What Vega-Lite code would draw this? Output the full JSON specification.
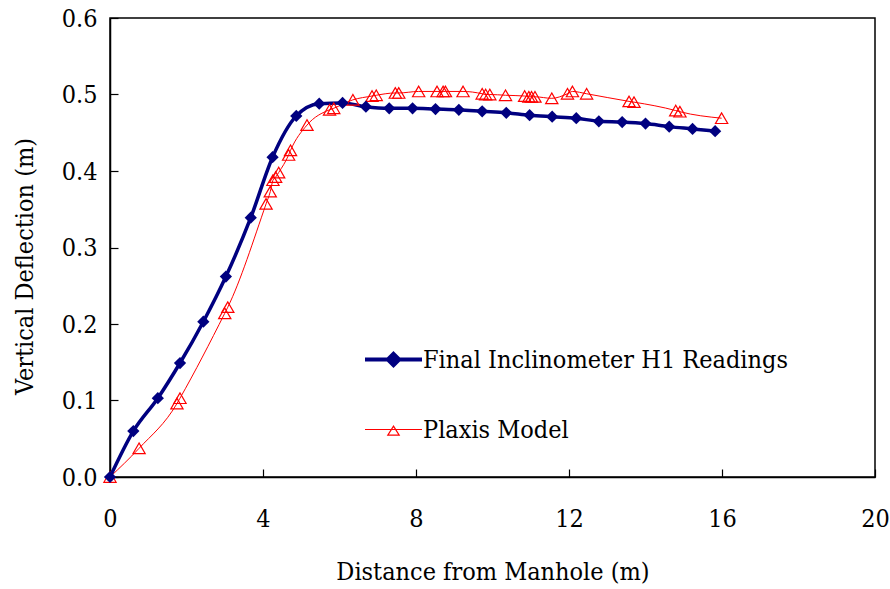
{
  "$schema": "https://vega.github.io/schema/vega-lite/v6.json",
  "width": 765,
  "height": 459,
  "autosize": "none",
  "padding": {"left": 110, "top": 18, "right": 15, "bottom": 112},
  "background": "white",
  "config": {
    "font": "DejaVu Serif Condensed",
    "view": {"stroke": "#000000", "strokeWidth": 1.5},
    "axis": {
      "grid": false,
      "domainColor": "#000000",
      "domainWidth": 1.5,
      "tickColor": "#000000",
      "tickWidth": 1.2,
      "tickSize": -8,
      "labelFlush": false,
      "labelFont": "DejaVu Serif Condensed",
      "labelFontSize": 25,
      "labelColor": "#000000",
      "titleFont": "DejaVu Serif Condensed",
      "titleFontSize": 25,
      "titleFontWeight": "normal",
      "titleColor": "#000000"
    },
    "legend": {
      "labelFont": "DejaVu Serif Condensed"
    }
  },
  "datasets": {
    "pts": [
      {"series": "Final Inclinometer H1 Readings", "d": 0, "v": 0},
      {"series": "Final Inclinometer H1 Readings", "d": 0.61, "v": 0.060},
      {"series": "Final Inclinometer H1 Readings", "d": 1.25, "v": 0.103},
      {"series": "Final Inclinometer H1 Readings", "d": 1.83, "v": 0.149},
      {"series": "Final Inclinometer H1 Readings", "d": 2.44, "v": 0.203},
      {"series": "Final Inclinometer H1 Readings", "d": 3.03, "v": 0.262},
      {"series": "Final Inclinometer H1 Readings", "d": 3.68, "v": 0.339},
      {"series": "Final Inclinometer H1 Readings", "d": 4.25, "v": 0.418},
      {"series": "Final Inclinometer H1 Readings", "d": 4.87, "v": 0.472},
      {"series": "Final Inclinometer H1 Readings", "d": 5.47, "v": 0.488},
      {"series": "Final Inclinometer H1 Readings", "d": 6.08, "v": 0.489},
      {"series": "Final Inclinometer H1 Readings", "d": 6.69, "v": 0.484},
      {"series": "Final Inclinometer H1 Readings", "d": 7.30, "v": 0.482},
      {"series": "Final Inclinometer H1 Readings", "d": 7.91, "v": 0.482},
      {"series": "Final Inclinometer H1 Readings", "d": 8.51, "v": 0.481},
      {"series": "Final Inclinometer H1 Readings", "d": 9.12, "v": 0.480},
      {"series": "Final Inclinometer H1 Readings", "d": 9.73, "v": 0.478},
      {"series": "Final Inclinometer H1 Readings", "d": 10.36, "v": 0.476},
      {"series": "Final Inclinometer H1 Readings", "d": 10.97, "v": 0.473},
      {"series": "Final Inclinometer H1 Readings", "d": 11.56, "v": 0.471},
      {"series": "Final Inclinometer H1 Readings", "d": 12.19, "v": 0.469},
      {"series": "Final Inclinometer H1 Readings", "d": 12.78, "v": 0.465},
      {"series": "Final Inclinometer H1 Readings", "d": 13.39, "v": 0.464},
      {"series": "Final Inclinometer H1 Readings", "d": 14.00, "v": 0.462},
      {"series": "Final Inclinometer H1 Readings", "d": 14.62, "v": 0.458},
      {"series": "Final Inclinometer H1 Readings", "d": 15.23, "v": 0.455},
      {"series": "Final Inclinometer H1 Readings", "d": 15.82, "v": 0.452},
      {"series": "Plaxis Model", "d": 0, "v": 0},
      {"series": "Plaxis Model", "d": 0.76, "v": 0.0375},
      {"series": "Plaxis Model", "d": 1.75, "v": 0.096},
      {"series": "Plaxis Model", "d": 1.83, "v": 0.103},
      {"series": "Plaxis Model", "d": 3.0, "v": 0.214},
      {"series": "Plaxis Model", "d": 3.08, "v": 0.222},
      {"series": "Plaxis Model", "d": 4.08, "v": 0.357},
      {"series": "Plaxis Model", "d": 4.19, "v": 0.373},
      {"series": "Plaxis Model", "d": 4.26, "v": 0.388},
      {"series": "Plaxis Model", "d": 4.33, "v": 0.392},
      {"series": "Plaxis Model", "d": 4.41, "v": 0.398},
      {"series": "Plaxis Model", "d": 4.67, "v": 0.421},
      {"series": "Plaxis Model", "d": 4.72, "v": 0.427},
      {"series": "Plaxis Model", "d": 5.15, "v": 0.460},
      {"series": "Plaxis Model", "d": 5.74, "v": 0.480},
      {"series": "Plaxis Model", "d": 5.85, "v": 0.482},
      {"series": "Plaxis Model", "d": 6.35, "v": 0.493},
      {"series": "Plaxis Model", "d": 6.85, "v": 0.498},
      {"series": "Plaxis Model", "d": 6.96, "v": 0.499},
      {"series": "Plaxis Model", "d": 7.46, "v": 0.502},
      {"series": "Plaxis Model", "d": 7.55, "v": 0.502},
      {"series": "Plaxis Model", "d": 8.07, "v": 0.504},
      {"series": "Plaxis Model", "d": 8.55, "v": 0.504},
      {"series": "Plaxis Model", "d": 8.71, "v": 0.504},
      {"series": "Plaxis Model", "d": 8.77, "v": 0.504},
      {"series": "Plaxis Model", "d": 9.23, "v": 0.504},
      {"series": "Plaxis Model", "d": 9.73, "v": 0.501},
      {"series": "Plaxis Model", "d": 9.82, "v": 0.500},
      {"series": "Plaxis Model", "d": 9.93, "v": 0.500},
      {"series": "Plaxis Model", "d": 10.34, "v": 0.499},
      {"series": "Plaxis Model", "d": 10.84, "v": 0.498},
      {"series": "Plaxis Model", "d": 10.95, "v": 0.497},
      {"series": "Plaxis Model", "d": 11.02, "v": 0.497},
      {"series": "Plaxis Model", "d": 11.11, "v": 0.497},
      {"series": "Plaxis Model", "d": 11.55, "v": 0.495},
      {"series": "Plaxis Model", "d": 11.96, "v": 0.501},
      {"series": "Plaxis Model", "d": 12.09, "v": 0.504},
      {"series": "Plaxis Model", "d": 12.46, "v": 0.501},
      {"series": "Plaxis Model", "d": 13.57, "v": 0.491},
      {"series": "Plaxis Model", "d": 13.70, "v": 0.490},
      {"series": "Plaxis Model", "d": 14.79, "v": 0.479},
      {"series": "Plaxis Model", "d": 14.90, "v": 0.4775},
      {"series": "Plaxis Model", "d": 15.99, "v": 0.469}
    ]
  },
  "data": {"name": "pts"},
  "encoding": {
    "x": {
      "field": "d", "type": "quantitative",
      "scale": {"domain": [0, 20], "nice": false, "zero": false},
      "axis": {"values": [0, 4, 8, 12, 16, 20], "labelPadding": 37, "title": "Distance from Manhole (m)", "titlePadding": 28}
    },
    "y": {
      "field": "v", "type": "quantitative",
      "scale": {"domain": [0, 0.6], "nice": false},
      "axis": {"values": [0, 0.1, 0.2, 0.3, 0.4, 0.5, 0.6], "format": ".1f", "labelPadding": 21, "title": "Vertical Deflection (m)", "titlePadding": 24, "titleY": 248}
    }
  },
  "layer": [
    {
      "transform": [{"filter": "datum.series === 'Plaxis Model'"}],
      "mark": {"type": "line", "interpolate": "monotone", "color": "#FF0000", "strokeWidth": 1}
    },
    {
      "transform": [{"filter": "datum.series === 'Final Inclinometer H1 Readings'"}],
      "mark": {"type": "line", "interpolate": "monotone", "color": "#000080", "strokeWidth": 3.5}
    },
    {
      "transform": [{"filter": "datum.series === 'Plaxis Model'"}],
      "mark": {"type": "point", "shape": "triangle-up", "filled": false, "stroke": "#FF0000", "fill": "transparent", "strokeWidth": 1.2, "size": 150, "opacity": 1}
    },
    {
      "transform": [{"filter": "datum.series === 'Final Inclinometer H1 Readings'"}],
      "mark": {"type": "point", "shape": "diamond", "filled": true, "color": "#000080", "size": 150, "opacity": 1}
    },
    {
      "transform": [{"filter": "datum.d < 0"}],
      "mark": {"type": "point", "opacity": 1, "size": 3249},
      "encoding": {
        "shape": {
          "field": "series", "type": "nominal",
          "scale": {"domain": ["Final Inclinometer H1 Readings", "Plaxis Model"], "range": ["M-1,0H1M0,-0.2L0.2,0L0,0.2L-0.2,0Z", "M-1,0H1M0,-0.12L0.2,0.2L-0.2,0.2Z"]},
          "legend": {
            "title": null,
            "orient": "none",
            "legendX": 253,
            "legendY": 311,
            "padding": 0,
            "symbolSize": 3249,
            "rowPadding": 26,
            "labelOffset": -1,
            "labelFontSize": 25,
            "labelColor": "#000000",
            "labelLimit": 600
          }
        },
        "stroke": {
          "field": "series", "type": "nominal",
          "scale": {"domain": ["Final Inclinometer H1 Readings", "Plaxis Model"], "range": ["#000080", "#FF0000"]}
        },
        "fill": {
          "field": "series", "type": "nominal",
          "scale": {"domain": ["Final Inclinometer H1 Readings", "Plaxis Model"], "range": ["#000080", "#ffffff"]}
        },
        "strokeWidth": {
          "field": "series", "type": "nominal",
          "scale": {"domain": ["Final Inclinometer H1 Readings", "Plaxis Model"], "range": [4, 1.2]}
        }
      }
    }
  ]
}
